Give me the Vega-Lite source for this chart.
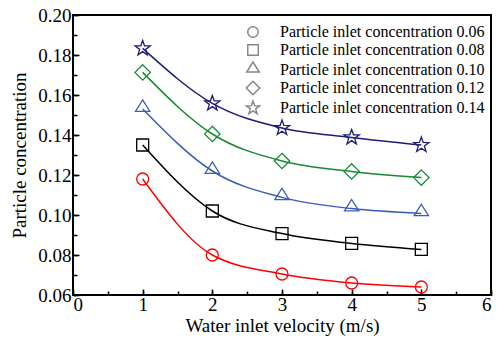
{
  "$schema": "https://vega.github.io/schema/vega-lite/v6.json",
  "width": 418,
  "height": 280,
  "autosize": "none",
  "padding": {"left": 73, "top": 15, "right": 12, "bottom": 46},
  "background": "white",
  "config": {
    "font": "Liberation Serif, Times New Roman, DejaVu Serif, serif",
    "view": {"stroke": "black", "strokeWidth": 2},
    "axis": {
      "grid": false,
      "domain": false,
      "tickColor": "black",
      "tickWidth": 1.5,
      "labelColor": "black",
      "titleColor": "black",
      "labelFont": "Liberation Serif, Times New Roman, DejaVu Serif, serif",
      "titleFont": "Liberation Serif, Times New Roman, DejaVu Serif, serif",
      "labelFontSize": 19,
      "titleFontSize": 19,
      "titleFontWeight": "normal"
    },
    "legend": {
      "labelFont": "Liberation Serif, Times New Roman, DejaVu Serif, serif",
      "labelFontSize": 16,
      "labelColor": "black",
      "labelLimit": 0
    }
  },
  "data": {
    "values": [
      {"series": "Particle inlet concentration 0.06", "velocity": 1, "concentration": 0.118},
      {"series": "Particle inlet concentration 0.06", "velocity": 2, "concentration": 0.080},
      {"series": "Particle inlet concentration 0.06", "velocity": 3, "concentration": 0.0705},
      {"series": "Particle inlet concentration 0.06", "velocity": 4, "concentration": 0.066},
      {"series": "Particle inlet concentration 0.06", "velocity": 5, "concentration": 0.064},
      {"series": "Particle inlet concentration 0.08", "velocity": 1, "concentration": 0.135},
      {"series": "Particle inlet concentration 0.08", "velocity": 2, "concentration": 0.102},
      {"series": "Particle inlet concentration 0.08", "velocity": 3, "concentration": 0.0907},
      {"series": "Particle inlet concentration 0.08", "velocity": 4, "concentration": 0.0858},
      {"series": "Particle inlet concentration 0.08", "velocity": 5, "concentration": 0.0828},
      {"series": "Particle inlet concentration 0.10", "velocity": 1, "concentration": 0.153},
      {"series": "Particle inlet concentration 0.10", "velocity": 2, "concentration": 0.122},
      {"series": "Particle inlet concentration 0.10", "velocity": 3, "concentration": 0.1088},
      {"series": "Particle inlet concentration 0.10", "velocity": 4, "concentration": 0.1032},
      {"series": "Particle inlet concentration 0.10", "velocity": 5, "concentration": 0.1008},
      {"series": "Particle inlet concentration 0.12", "velocity": 1, "concentration": 0.1713},
      {"series": "Particle inlet concentration 0.12", "velocity": 2, "concentration": 0.1405},
      {"series": "Particle inlet concentration 0.12", "velocity": 3, "concentration": 0.127},
      {"series": "Particle inlet concentration 0.12", "velocity": 4, "concentration": 0.1218},
      {"series": "Particle inlet concentration 0.12", "velocity": 5, "concentration": 0.1187},
      {"series": "Particle inlet concentration 0.14", "velocity": 1, "concentration": 0.1833},
      {"series": "Particle inlet concentration 0.14", "velocity": 2, "concentration": 0.1558},
      {"series": "Particle inlet concentration 0.14", "velocity": 3, "concentration": 0.1435},
      {"series": "Particle inlet concentration 0.14", "velocity": 4, "concentration": 0.1388},
      {"series": "Particle inlet concentration 0.14", "velocity": 5, "concentration": 0.135}
    ]
  },
  "layer": [
    {
      "mark": {"type": "line", "interpolate": "monotone", "strokeWidth": 1.5},
      "encoding": {
        "x": {
          "field": "velocity", "type": "quantitative",
          "scale": {"domain": [0, 6], "nice": false},
          "axis": {"orient": "bottom", "values": [0, 0.5, 1, 1.5, 2, 2.5, 3, 3.5, 4, 4.5, 5, 5.5, 6], "labels": false, "title": null, "tickSize": -4}
        },
        "y": {
          "field": "concentration", "type": "quantitative",
          "scale": {"domain": [0.06, 0.2], "nice": false, "zero": false},
          "axis": {"orient": "left", "values": [0.06, 0.07, 0.08, 0.09, 0.1, 0.11, 0.12, 0.13, 0.14, 0.15, 0.16, 0.17, 0.18, 0.19, 0.2], "labels": false, "title": null, "tickSize": -4}
        },
        "color": {
          "field": "series", "type": "nominal",
          "scale": {"range": ["#ff0000", "#000000", "#3b5bb8", "#178a34", "#1c1c7c"]},
          "legend": null
        }
      }
    },
    {
      "mark": {"type": "point", "filled": false, "strokeWidth": 1.3, "size": 130, "opacity": 1},
      "encoding": {
        "x": {
          "field": "velocity", "type": "quantitative",
          "scale": {"domain": [0, 6], "nice": false},
          "axis": {"orient": "bottom", "values": [0, 1, 2, 3, 4, 5, 6], "format": "d", "tickSize": -6, "labelPadding": 6, "title": "Water inlet velocity (m/s)", "titlePadding": 2}
        },
        "y": {
          "field": "concentration", "type": "quantitative",
          "scale": {"domain": [0.06, 0.2], "nice": false, "zero": false},
          "axis": {"orient": "left", "values": [0.06, 0.08, 0.1, 0.12, 0.14, 0.16, 0.18, 0.2], "format": ".2f", "tickSize": -6, "labelPadding": 8, "title": "Particle concentration", "titlePadding": 8}
        },
        "color": {
          "field": "series", "type": "nominal",
          "scale": {"range": ["#ff0000", "#000000", "#3b5bb8", "#178a34", "#1c1c7c"]},
          "legend": {
            "title": null, "orient": "none", "legendX": 172, "legendY": 9,
            "labelOffset": 19, "rowPadding": 0, "padding": 0,
            "encode": {"symbols": {"shape": {"signal": "(datum.value === 'Particle inlet concentration 0.06' ? 'M-1.05,0A1.05,1.05,0,1,0,1.05,0A1.05,1.05,0,1,0,-1.05,0Z' : datum.value === 'Particle inlet concentration 0.08' ? 'M-1.05,-1.05L1.05,-1.05L1.05,1.05L-1.05,1.05Z' : datum.value === 'Particle inlet concentration 0.10' ? 'M0,-1.6L1.25,0.4L-1.25,0.4Z' : datum.value === 'Particle inlet concentration 0.12' ? 'M0,-1.35L1.35,0L0,1.35L-1.35,0Z' : 'M0,-1.4L0.33,-0.45L1.33,-0.43L0.53,0.17L0.82,1.13L0,0.56L-0.82,1.13L-0.53,0.17L-1.33,-0.43L-0.33,-0.45Z') + 'M-3.5,0L-1.05,0M1.05,0L3.5,0'"}, "stroke": {"scale": "color", "field": "value"}, "strokeWidth": {"value": 1.3}, "opacity": {"value": 1}, "strokeOpacity": {"value": 1}}}
          }
        },
        "shape": {
          "field": "series", "type": "nominal",
          "scale": {"range": [
            "M-1.05,0A1.05,1.05,0,1,0,1.05,0A1.05,1.05,0,1,0,-1.05,0Z",
            "M-1.05,-1.05L1.05,-1.05L1.05,1.05L-1.05,1.05Z",
            "M0,-1.6L1.25,0.4L-1.25,0.4Z",
            "M0,-1.35L1.35,0L0,1.35L-1.35,0Z",
            "M0,-1.4L0.33,-0.45L1.33,-0.43L0.53,0.17L0.82,1.13L0,0.56L-0.82,1.13L-0.53,0.17L-1.33,-0.43L-0.33,-0.45Z"
          ]},
          "legend": {
            "title": null, "orient": "none", "legendX": 172, "legendY": 9,
            "labelOffset": 19, "rowPadding": 0, "padding": 0,
            "encode": {"symbols": {"shape": {"signal": "(datum.value === 'Particle inlet concentration 0.06' ? 'M-1.05,0A1.05,1.05,0,1,0,1.05,0A1.05,1.05,0,1,0,-1.05,0Z' : datum.value === 'Particle inlet concentration 0.08' ? 'M-1.05,-1.05L1.05,-1.05L1.05,1.05L-1.05,1.05Z' : datum.value === 'Particle inlet concentration 0.10' ? 'M0,-1.6L1.25,0.4L-1.25,0.4Z' : datum.value === 'Particle inlet concentration 0.12' ? 'M0,-1.35L1.35,0L0,1.35L-1.35,0Z' : 'M0,-1.4L0.33,-0.45L1.33,-0.43L0.53,0.17L0.82,1.13L0,0.56L-0.82,1.13L-0.53,0.17L-1.33,-0.43L-0.33,-0.45Z') + 'M-3.5,0L-1.05,0M1.05,0L3.5,0'"}, "stroke": {"scale": "color", "field": "value"}, "strokeWidth": {"value": 1.3}, "opacity": {"value": 1}, "strokeOpacity": {"value": 1}}}
          }
        }
      }
    }
  ],
  "resolve": {"axis": {"x": "independent", "y": "independent"}}
}
